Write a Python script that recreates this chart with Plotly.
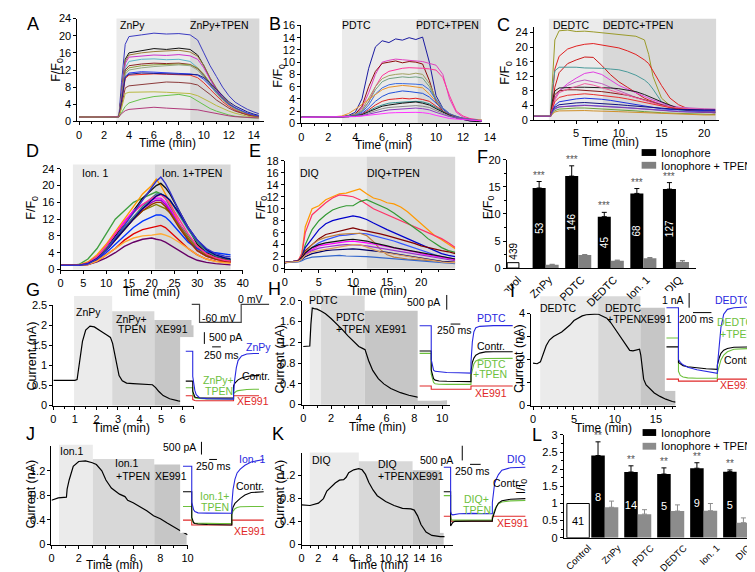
import plotly.graph_objects as go

W, H = 755, 572
FONT = "Liberation Sans, Arial, sans-serif"

# ---------------- A : ZnPy (F/F0 vs min) ----------------
a_time = [0, 1, 2, 3, 3.2, 3.4, 3.7, 4, 5, 6, 7, 8, 8.9, 9.5, 10, 10.5, 11, 11.5, 12, 12.5, 13, 13.5, 14, 14.4]
a_traces = [
    [1.1, 1.1, 1.0, 1.1, 1.3, 9, 18, 19.8, 20.2, 20.6, 20.4, 20.5, 20.2, 19, 16, 13, 10.5, 8, 6, 4.5, 3.6, 2.8, 2.2, 1.8],
    [1, 1, 1, 1, 1.2, 7, 14.5, 16, 16.5, 17, 16.8, 17.1, 16.8, 15.5, 13, 10, 7.5, 5.5, 4, 3, 2.2, 1.6, 1.2, 1.0],
    [1, 1, 1, 1, 1.2, 6.5, 14, 15.5, 16, 16.3, 16.5, 16.6, 16.2, 15.2, 13, 10.2, 7.8, 5.8, 4.3, 3.2, 2.4, 1.8, 1.3, 1.0],
    [1, 1, 1, 1, 1.2, 6, 13.5, 15, 15.3, 15.5, 15.4, 15.6, 15.3, 14.5, 12.5, 9.8, 7.5, 5.5, 4, 3, 2.2, 1.6, 1.2, 1.0],
    [1, 1, 1, 1, 1.1, 5.5, 12.5, 14, 14.5, 14.6, 14.4, 14.5, 14, 12.5, 10.5, 8.5, 6.5, 5, 3.8, 2.8, 2, 1.5, 1.1, 0.9],
    [1, 1, 1, 1, 1.1, 5, 12, 13, 13.4, 13.6, 13.5, 13.6, 13.3, 12.3, 10.8, 8.8, 7, 5.2, 4, 3, 2.2, 1.6, 1.2, 1.0],
    [1, 1, 1, 1, 1.1, 5, 11.5, 12.5, 13, 13.2, 13.3, 13.4, 13.2, 12.5, 11, 9, 7, 5.3, 4, 3, 2.2, 1.6, 1.2, 0.9],
    [1, 1, 1, 1, 1.1, 4.8, 11, 12, 12.5, 12.8, 13, 13.2, 13, 12, 10.3, 8.4, 6.6, 5, 3.8, 2.9, 2.1, 1.5, 1.1, 0.9],
    [1, 1, 1, 1, 1.1, 4.5, 10.5, 11.3, 11.6, 11.5, 11.3, 11.2, 11.1, 10.8, 9.8, 8.3, 6.8, 5.3, 4, 3.2, 2.5, 1.9, 1.5, 1.2],
    [1, 1, 1, 1, 1.1, 4.3, 10, 10.8, 11, 11.1, 11, 10.9, 10.8, 10.2, 9, 7.5, 6, 4.6, 3.5, 2.6, 2, 1.5, 1.1, 0.9],
    [1, 1, 1, 1, 1.1, 4.5, 10.3, 11, 11.3, 11.2, 11.1, 11, 11, 10.9, 10.2, 9, 7.5, 6, 4.6, 3.6, 2.8, 2.2, 1.7, 1.4],
    [1, 1, 1, 1, 1.1, 3.5, 7.8, 8.3, 8.6, 9, 9.2, 9.1, 8.9, 8.5, 7.5, 6.3, 5, 4, 3.1, 2.4, 1.9, 1.5, 1.2, 1.0],
    [1, 1, 1, 1, 1.1, 3, 6.5, 6.8, 6.9, 6.9, 6.8, 6.7, 6.5, 6, 5.3, 4.5, 3.7, 3, 2.4, 1.9, 1.5, 1.2, 1.0, 0.9],
    [1, 1, 1, 1, 1.1, 2, 3.5, 4.3, 5.2, 5.8, 6.1, 6.3, 5.8, 4.8, 3.8, 3, 2.4, 1.9, 1.5, 1.2, 1.0, 0.9, 0.8, 0.8],
    [1, 1, 1, 1, 1.1, 1.8, 2.5, 2.8, 3.0, 3.3, 3.1, 3.0, 2.9, 2.7, 2.4, 2.1, 1.8, 1.5, 1.3, 1.1, 1.0, 0.9, 0.8, 0.8],
]
a_colors = ["#3b3bc0", "#111111", "#9c7c38", "#cc33cc", "#5ab4c8", "#8b2323", "#8a9a3a", "#93a882",
            "#2a3cf0", "#e8302a", "#1c1c8c", "#8b3a3a", "#b8b840", "#66c24a", "#b03a7a"]

# ---------------- B : PDTC ----------------
b_time = [0, 1, 2, 3, 3.5, 4, 4.5, 5, 5.5, 6, 6.5, 7, 7.5, 8, 8.5, 9, 9.5, 10, 10.5, 11, 11.5, 12, 12.5, 13, 13.4]
b_traces = [
    [1, 1, 1, 1.1, 1.3, 1.8, 4, 9, 12.5, 13.5, 13.2, 13.8, 13.6, 14, 13.7, 14.1, 10, 4.5, 2.5, 1.4, 0.9, 0.6, 0.4, 0.3, 0.3],
    [1, 1, 1, 1.05, 1.2, 1.5, 2.5, 5, 8, 10, 10.3, 10.5, 10.4, 10.3, 10.2, 10.1, 9.8, 9.5, 8, 4, 1.8, 1, 0.7, 0.5, 0.4],
    [1, 1, 1, 1.05, 1.2, 1.5, 2.8, 6, 8.5, 9.8, 10, 10.2, 9.9, 10.1, 10, 9.7, 7, 3.5, 2, 1.3, 0.9, 0.7, 0.5, 0.4, 0.4],
    [1, 1, 1, 1.05, 1.15, 1.4, 2, 3.5, 6, 7.8, 8.5, 8.8, 9, 9.1, 9.1, 9, 8.9, 8.7, 7.5, 4.5, 2, 1.2, 0.8, 0.6, 0.5],
    [1, 1, 1, 1.05, 1.2, 1.5, 2.2, 4, 6, 7.3, 7.8, 8, 8.1, 8, 8.2, 8, 6.5, 4, 2.5, 1.6, 1.1, 0.8, 0.6, 0.5, 0.5],
    [1, 1, 1, 1.05, 1.2, 1.4, 2, 3.5, 5.5, 6.8, 7.3, 7.5, 7.6, 7.5, 7.6, 7.4, 6, 3.8, 2.4, 1.5, 1.1, 0.8, 0.6, 0.5, 0.5],
    [1, 1, 1, 1.05, 1.15, 1.3, 1.8, 3, 4.8, 5.8, 6.3, 6.5, 6.5, 6.5, 6.4, 6.3, 5.5, 3.8, 2.5, 1.6, 1.1, 0.8, 0.6, 0.5, 0.4],
    [1, 1, 1, 1.2, 1.6, 2.3, 3.1, 4.0, 4.8, 5.5, 5.9, 6.1, 6.2, 6.1, 6, 5.8, 4.8, 3.5, 2.3, 1.5, 1.1, 0.8, 0.6, 0.5, 0.5],
    [1, 1, 1, 1.05, 1.1, 1.25, 1.6, 2.5, 3.6, 4.4, 4.9, 5.1, 5.3, 5.2, 5.1, 4.9, 4.3, 3.3, 2.3, 1.5, 1.1, 0.8, 0.6, 0.5, 0.4],
    [1, 1, 1, 1.05, 1.1, 1.2, 1.5, 2.2, 3.0, 3.6, 3.9, 4.0, 4.1, 4.0, 4.1, 3.9, 3.6, 2.8, 2.0, 1.4, 1.0, 0.8, 0.6, 0.5, 0.4],
    [1, 1, 1, 1.05, 1.1, 1.2, 1.4, 2, 2.6, 3.0, 3.3, 3.4, 3.5, 3.5, 3.6, 3.5, 3.2, 2.6, 1.9, 1.3, 1.0, 0.8, 0.6, 0.5, 0.4],
    [1, 1, 1, 1.05, 1.1, 1.2, 1.4, 1.9, 2.4, 2.8, 3.0, 3.2, 3.3, 3.4, 3.5, 3.3, 3.0, 2.4, 1.8, 1.3, 0.9, 0.6, 0.4, 0.3, 0.3],
    [1, 1, 1, 1.05, 1.1, 1.2, 1.3, 1.7, 2.1, 2.4, 2.6, 2.7, 2.8, 2.9, 2.9, 2.8, 2.6, 2.1, 1.6, 1.2, 0.9, 0.7, 0.6, 0.5, 0.4],
    [1, 1, 1, 1.05, 1.1, 1.15, 1.25, 1.5, 1.8, 2.0, 2.2, 2.3, 2.4, 2.4, 2.5, 2.4, 2.2, 1.8, 1.4, 1.1, 0.9, 0.7, 0.6, 0.5, 0.4],
    [1, 1, 1, 1.0, 1.05, 1.1, 1.2, 1.35, 1.5, 1.6, 1.7, 1.75, 1.8, 1.8, 1.8, 1.75, 1.6, 1.3, 1.0, 0.8, 0.7, 0.6, 0.5, 0.4, 0.4],
]
b_colors = ["#1a1aa0", "#e040c0", "#8b0a0a", "#ff3399", "#a0a060", "#6f9f7f", "#3a6ae0", "#e8922a",
            "#2050d8", "#e02020", "#2f8f8f", "#111111", "#8a8a8a", "#8a3ac0", "#ff33ff"]

# ---------------- C : DEDTC ----------------
c_time = [0, 1, 2, 2.2, 2.5, 3, 4, 5, 6, 7, 8, 9, 10, 11, 12, 13, 13.5, 14, 15, 16, 17, 18, 19, 20, 21.3]
c_traces = [
    [1, 1, 1, 10, 22, 24.5, 24.7, 24.3, 24.4, 24.2, 24, 23.8, 23.6, 23.4, 23, 22, 18, 12, 6, 4, 3, 2.8, 2.6, 2.5, 2.5],
    [1, 1, 1, 6, 14, 17.5, 19.5, 20.3, 20.8, 21, 20.6, 20.3, 19.8, 19, 18, 16.5, 15.5, 13.5, 9.5, 6, 4.2, 3.2, 2.8, 2.5, 2.3],
    [1, 1, 1, 4, 9, 13, 15.5, 16.5, 17.3, 17.2, 15, 12.5, 10.5, 9, 7.5, 6, 5.5, 5, 4.2, 3.5, 3, 2.6, 2.3, 2.1, 2],
    [1, 1, 1, 8, 13.5, 14.5, 14.6, 14.5, 14.3, 14.3, 14.2, 14, 13.8, 13.2, 12.3, 11, 10, 8.5, 5, 3.5, 2.8, 2.5, 2.3, 2.2, 2.2],
    [1, 1, 1, 3, 6, 8, 10, 11.5, 12.8, 13.2, 12.5, 11, 9.5, 8.5, 7.5, 6.5, 6, 5.5, 4.8, 4, 3.5, 3.2, 3, 2.9, 2.8],
    [1, 1, 1, 3, 6, 8, 9.5, 10.5, 11, 10.5, 10, 9, 8, 7, 6.2, 5.5, 5.2, 4.8, 4.2, 3.8, 3.5, 3.3, 3.2, 3.1, 3],
    [1, 1, 1, 5, 8, 8.8, 9, 9, 9, 9, 8.9, 8.8, 8.6, 8.3, 7.8, 7, 6.6, 6, 5, 4, 3.2, 2.7, 2.4, 2.2, 2],
    [1, 1, 1, 4, 7, 8, 8.3, 8.3, 8.2, 8, 7.8, 7.5, 7.2, 6.8, 6.2, 5.5, 5.2, 4.8, 4, 3.5, 3, 2.7, 2.5, 2.3, 2.2],
    [1, 1, 1, 3, 5.5, 7.5, 8.5, 9.2, 10, 9.6, 9, 8.2, 7.5, 6.8, 6, 5.3, 5, 4.6, 4, 3.6, 3.3, 3.1, 3, 2.9, 2.9],
    [1, 1, 1, 3, 5, 6.2, 6.8, 7, 7.2, 7, 6.8, 6.5, 6.2, 5.8, 5.3, 4.8, 4.5, 4.2, 3.8, 3.4, 3.1, 2.9, 2.7, 2.6, 2.5],
    [1, 1, 1, 2.5, 4, 5, 5.5, 5.8, 6, 5.9, 5.7, 5.4, 5, 4.6, 4.2, 3.8, 3.6, 3.4, 3.1, 2.9, 2.8, 2.7, 2.7, 2.6, 2.6],
    [1, 1, 1, 2.2, 3.5, 4.2, 4.5, 4.7, 4.8, 4.7, 4.6, 4.4, 4.2, 4, 3.8, 3.5, 3.4, 3.3, 3.1, 3, 2.9, 2.9, 2.8, 2.8, 2.8],
    [1, 1, 1, 2, 3, 3.6, 3.9, 4, 4.1, 4, 3.9, 3.8, 3.6, 3.4, 3.2, 3, 2.9, 2.8, 2.6, 2.5, 2.4, 2.3, 2.3, 2.2, 2.2],
    [1, 1, 1, 1.8, 2.6, 3, 3.2, 3.3, 3.3, 3.2, 3.1, 3, 2.9, 2.7, 2.5, 2.3, 2.2, 2.1, 2, 1.9, 1.8, 1.7, 1.6, 1.5, 1.5],
    [1, 1, 1, 1.6, 2.2, 2.5, 2.6, 2.6, 2.6, 2.5, 2.5, 2.4, 2.3, 2.2, 2.1, 2, 1.9, 1.9, 1.8, 1.7, 1.6, 1.5, 1.5, 1.4, 1.4],
    [1, 1, 1, 2.3, 3.2, 3.6, 3.8, 3.9, 4, 3.9, 3.8, 3.7, 3.6, 3.4, 3.2, 3, 2.9, 2.8, 2.6, 2.4, 2.3, 2.2, 2.1, 2, 2],
]
c_colors = ["#9a9a2a", "#e02020", "#cc1a1a", "#4a9a9a", "#e040e0", "#c060c0", "#202020", "#8b1a1a",
            "#f060a0", "#e83030", "#2030e0", "#101080", "#4a6aff", "#6aa03a", "#d0902a", "#8a3aa8"]

# ---------------- D : Ion. 1 ----------------
d_time = [0, 2, 4, 6, 8, 10, 12, 14, 16, 18, 20, 21, 22, 23, 24, 26, 28, 30, 32, 34, 36, 37.3]
d_traces = [
    [1, 1, 1.2, 2.5, 5, 8.5, 12, 14, 16, 17, 18, 18.5, 18, 17, 15, 11, 8, 5.5, 4, 3, 2.5, 2.3],
    [1, 1, 1.1, 1.8, 3.5, 6, 9, 12, 15, 18, 20, 21.5, 20, 18, 16, 11, 7, 4.5, 3.2, 2.5, 2, 1.8],
    [1, 1, 1, 1.5, 3, 5, 8, 11, 14, 17, 19, 20, 20.5, 19.5, 18, 14, 10, 6, 4, 3, 2.5, 2.2],
    [1, 1, 1, 1.5, 3, 5.5, 8.5, 11.5, 14, 15.5, 16.5, 17, 17, 16, 14.5, 11, 7.5, 5, 3.5, 2.6, 2.1, 1.9],
    [1, 1, 1, 1.3, 2.5, 4.5, 7, 10, 12.5, 14.5, 16, 16.5, 16.5, 15.5, 14, 10.5, 7, 4.5, 3.2, 2.5, 2, 1.8],
    [1, 1, 1, 1.4, 2.8, 5, 7.5, 10, 12.5, 15, 17, 18, 18, 17.5, 16.5, 13, 9.5, 6.5, 4.5, 3.2, 2.6, 2.3],
    [1, 1, 1, 1.4, 2.6, 4.8, 7, 9.5, 12, 14, 15, 15.5, 15, 14.5, 13.5, 10.5, 7.5, 5, 3.5, 2.7, 2.2, 2],
    [1, 1, 1, 1.3, 2.3, 4, 6, 8, 10, 11.5, 12.5, 13, 13, 12.5, 11.5, 9, 6.5, 5, 4.2, 4, 3.7, 3.5],
    [1, 1, 1, 1.2, 2, 3.5, 5, 7, 8.5, 9.5, 10, 10.2, 10.5, 10, 9, 7, 5, 3.5, 2.5, 2, 1.8, 1.7],
    [1, 1, 1, 1.2, 1.8, 2.8, 4, 5.5, 6.5, 7.2, 7.5, 7.2, 7, 6.5, 5.8, 4.5, 3.2, 2.2, 1.7, 1.4, 1.2, 1.1],
    [1, 1, 1, 1.3, 2.5, 4.5, 7, 9.5, 12, 14, 15.5, 16, 16, 15, 13.5, 10, 7, 4.5, 3.2, 2.5, 2, 1.8],
    [1, 1, 1, 1.2, 2, 3.5, 5, 6.5, 7.5, 8, 8.2, 8.3, 8.5, 8.2, 7.8, 6.5, 5, 3.5, 2.5, 1.9, 1.6, 1.5],
    [1, 1, 1, 1.5, 3, 5.5, 8.5, 11, 13.5, 15.5, 17, 17.5, 17.8, 17, 15.5, 12, 8.5, 5.5, 3.8, 2.8, 2.2, 2],
    [1, 1, 1, 1.4, 2.6, 4.6, 7, 9.5, 12, 14.5, 16.5, 17.5, 18, 17.5, 16.5, 13.5, 10, 7, 4.8, 3.5, 2.8, 2.5],
    [1, 1, 1, 1.3, 2.5, 4.5, 7.5, 10.5, 13.5, 16.5, 19.5, 21, 22, 20.5, 18.5, 14, 10, 7, 5, 3.8, 3.2, 3],
]
d_colors = ["#40a040", "#ff9900", "#111111", "#ff00ff", "#9900cc", "#338080", "#808000", "#0033ff",
            "#e00000", "#660066", "#993300", "#ffaa33", "#ff3399", "#000080", "#3333cc"]

# ---------------- E : DIQ ----------------
e_time = [0, 1, 2, 2.5, 3, 4, 5, 6, 7, 8, 9, 10, 11, 12, 13, 14, 15, 16, 17, 18, 19, 20, 21, 22, 23, 24, 25]
e_traces = [
    [1, 1.1, 1.4, 2.5, 7, 10, 10.5, 11.5, 12, 12.5, 12.6, 13, 13.3, 12.5, 11.8, 11.5, 11, 10.8, 10.3, 9.5, 8.5, 7.5, 6.5, 5.5, 4.8, 4, 3.3],
    [1, 1.1, 1.4, 2.5, 6, 9, 10, 11, 11.8, 12.3, 12.2, 12, 11.5, 10.8, 10, 9.5, 9, 8.5, 8, 7.5, 7, 6.5, 6, 5.5, 5, 4.3, 3.5],
    [1, 1.1, 1.3, 2, 4, 6.5, 8, 9, 9.8, 10.2, 10.5, 10.5, 11.2, 11.5, 11, 10.5, 10, 9.3, 8.5, 7.7, 6.8, 6, 5, 4.2, 3.5, 3, 2.7],
    [1, 1.1, 1.3, 2, 3.5, 5, 6.5, 7.5, 8, 8.3, 8.5, 8.8, 8.6, 8.2, 7.6, 7, 6.5, 6, 5.5, 5, 4.5, 4, 3.5, 3, 2.5, 2.2, 2],
    [1, 1.1, 1.3, 2, 3, 4, 5, 5.7, 6, 6.3, 6.5, 6.8, 6.5, 6.3, 6, 5.8, 5.5, 5.2, 4.8, 4.5, 4.2, 3.8, 3.5, 3.2, 3, 2.8, 2.5],
    [1, 1.1, 1.3, 1.8, 2.7, 3.5, 4.3, 4.8, 5.2, 5.5, 5.6, 5.8, 5.9, 5.8, 5.5, 5.2, 5, 4.6, 4.2, 3.8, 3.4, 3, 2.6, 2.3, 2, 1.8, 1.6],
    [1, 1.1, 1.3, 1.8, 2.8, 4, 4.8, 5.2, 5.5, 5.7, 5.8, 5.9, 5.9, 5.5, 4.5, 3.2, 2.3, 1.9, 1.7, 1.6, 1.5, 1.4, 1.3, 1.2, 1.2, 1.1, 1.1],
    [1, 1.1, 1.3, 1.8, 2.5, 3.2, 3.8, 4, 4.2, 4.3, 4.5, 4.6, 4.5, 4.3, 4.1, 3.9, 3.6, 3.4, 3.2, 3, 2.8, 2.5, 2.3, 2.1, 1.9, 1.7, 1.5],
    [1, 1.1, 1.3, 1.7, 2.3, 3, 3.4, 3.6, 3.8, 3.9, 4, 4, 3.9, 3.8, 3.6, 3.4, 3.2, 3, 2.8, 2.6, 2.4, 2.2, 2, 1.8, 1.6, 1.4, 1.3],
    [1, 1.1, 1.3, 1.8, 2.6, 3.5, 4, 4.3, 4.5, 4.7, 4.8, 4.9, 4.8, 4.6, 4.3, 4.1, 3.8, 3.5, 3.3, 3, 2.8, 2.6, 2.4, 2.2, 2, 1.8, 1.6],
    [1, 1.1, 1.2, 1.5, 2, 2.5, 2.8, 3, 3.1, 3.2, 3.3, 3.3, 3.2, 3.1, 3, 2.9, 2.7, 2.5, 2.3, 2.1, 1.9, 1.7, 1.5, 1.3, 1.2, 1.1, 1],
    [1, 1, 1.1, 1.3, 1.6, 1.9, 2, 2.1, 2.2, 2.2, 2.1, 2.1, 2, 2, 1.9, 1.8, 1.7, 1.6, 1.5, 1.4, 1.3, 1.2, 1.1, 1, 0.9, 0.9, 0.8],
    [1, 1.1, 1.2, 1.6, 2.2, 2.8, 3, 3.2, 3.4, 3.6, 3.8, 4, 4, 3.6, 3.2, 2.8, 2.6, 2.4, 2.2, 2, 1.8, 1.6, 1.4, 1.2, 1.1, 1, 1],
]
e_colors = ["#ff9900", "#ff3366", "#339933", "#0000cc", "#800000", "#3355ff", "#c08040", "#ff00ff",
            "#9933cc", "#111111", "#000066", "#3366cc", "#e0a060"]

# ---------------- F : F/F0 summary ----------------
f_cats = ["Control", "ZnPy", "PDTC", "DEDTC", "Ion. 1", "DIQ"]
f_ctrl, f_ctrl_n = 1.0, "439"
f_iono = [14.8, 17.0, 9.5, 13.8, 14.6]
f_iono_err = [1.2, 1.9, 0.8, 0.9, 1.2]
f_iono_n = ["53", "146", "45", "68", "127"]
f_tpen = [0.6, 2.4, 1.35, 1.8, 1.1]
f_tpen_err = [0.1, 0.1, 0.12, 0.15, 0.3]

# ---------------- G-K : current vs time (min, nA) ----------------
g_time = [0, 0.5, 1.0, 1.1, 1.2, 1.35, 1.5, 1.7, 1.9, 2.1, 2.3, 2.5, 2.65, 2.75, 2.85, 2.95, 3.05, 3.2, 3.4,
          3.7, 4.0, 4.3, 4.6, 4.75, 4.9, 5.1, 5.4, 5.8, 6.2, 6.45]
g_curr = [0.63, 0.63, 0.63, 0.65, 1.0, 1.6, 1.88, 1.98, 1.96, 1.9, 1.82, 1.75, 1.7, 1.55, 1.25, 0.95, 0.75, 0.62,
          0.56, 0.55, 0.54, 0.53, 0.52, 0.45, 0.35, 0.25, 0.17, 0.12, 0.09, 0.07]
h_time = [0, 0.3, 0.47, 0.55, 0.65, 0.8, 1.0, 1.3, 1.6, 2.0, 2.4, 2.8, 3.2, 3.6, 4.0, 4.3, 4.45, 4.7, 5.0, 5.4,
          5.8, 6.3, 7.0, 7.6, 8.3, 9.0, 9.7, 10.35]
h_curr = [1.12, 1.12, 1.13, 1.55, 1.86, 1.85, 1.84, 1.8, 1.75, 1.66, 1.56, 1.45, 1.33, 1.22, 1.12, 1.08, 1.06,
          0.85, 0.66, 0.5, 0.4, 0.31, 0.23, 0.18, 0.14, 0.12, 0.1, 0.09]
i_time = [0, 0.5, 0.9, 1.2, 1.6, 2.0, 2.5, 3.0, 3.5, 4.0, 4.5, 5.0, 5.5, 6.0, 6.5, 7.0, 7.5, 8.0, 8.5, 9.0, 9.5,
          10.0, 10.5, 11.0, 11.5, 11.8, 12.2, 12.6, 13.0, 13.15, 13.3, 13.5, 13.8, 14.2, 14.8, 15.5, 16.2, 17.0, 17.4]
i_curr = [1.85, 1.82, 1.9, 2.2, 2.6, 2.85, 3.0, 3.1, 3.2, 3.35, 3.5, 3.7, 3.8, 3.9, 3.95, 3.98, 3.98, 3.97, 3.9,
          3.8, 3.6, 3.35, 3.1, 2.85, 2.55, 2.4, 2.38, 2.4, 2.45, 2.2, 1.6, 1.15, 0.9, 0.75, 0.55, 0.4, 0.28, 0.18, 0.15]
j_time = [0, 0.5, 1.1, 1.15, 1.3, 1.6, 2.0, 2.5, 3.0, 3.3, 3.7, 4.0, 4.4, 5.0, 5.4, 5.6, 6.0, 6.5, 7.0, 7.5, 8.0,
          8.5, 9.0, 9.5, 10.0]
j_curr = [0.72, 0.76, 0.77, 0.9, 1.05, 1.27, 1.35, 1.36, 1.33, 1.3, 1.2, 1.05, 0.92, 0.82, 0.78, 0.72, 0.68, 0.62,
          0.55, 0.47, 0.42, 0.35, 0.28, 0.22, 0.16]
k_time = [0, 1, 2, 2.6, 3.0, 3.5, 4.0, 4.5, 5.0, 5.3, 5.6, 6.2, 6.8, 7.2, 7.6, 8.0, 8.5, 9.0, 10, 11, 12, 13, 13.4,
          13.8, 14.2, 14.8, 15.5, 16.5, 17]
k_curr = [0.69, 0.68, 0.72, 0.8, 0.93, 1.0, 1.07, 1.12, 1.13, 1.17, 1.25, 1.3, 1.32, 1.3, 1.22, 1.08, 0.95, 0.85,
          0.75, 0.68, 0.63, 0.62, 0.6, 0.5, 0.35, 0.22, 0.16, 0.14, 0.14]

# ---------------- insets: current traces (ms, pA) ----------------
gi_t = [-200, 0, 0, 30, 60, 100, 150, 200, 400, 800, 1170, 1170, 1200, 1250, 1300, 1400, 1550, 1750, 1900]
gi_blue = [2000, 2000, 930, 560, 330, 150, 60, 10, -20, -35, -40, 150, 750, 1300, 1600, 1800, 1880, 1900, 1900]
gi_black = [725, 725, 300, 120, 50, 30, 20, 15, 10, 10, 10, 520, 620, 700, 780, 860, 920, 960, 960]
gi_green = [446, 446, 150, 60, 20, 0, -10, -20, -30, -38, -38, 200, 250, 290, 320, 350, 370, 380, 380]
gi_red = [100, 100, -60, -90, -100, -108, -108, -108, -108, -108, -108, 100, 100, 100, 100, 100, 100, 100, 100]
prot_t = [-230, 0, 0, 1195, 1195, 2000]
prot_mv = [0, 0, -60, -60, 0, 0]

hi_t = [-300, 0, 0, 30, 60, 100, 200, 400, 700, 1025, 1025, 1060, 1100, 1150, 1250, 1400, 1600, 2100]
hi_blue = [2150, 2150, 1000, 750, 640, 600, 580, 560, 550, 540, 900, 1600, 1950, 2080, 2130, 2150, 2155, 2155]
hi_black = [1290, 1290, 650, 450, 350, 300, 270, 260, 255, 250, 600, 900, 1050, 1150, 1220, 1260, 1265, 1265]
hi_green = [1210, 1210, 500, 300, 220, 180, 160, 157, 155, 155, 450, 700, 850, 950, 1010, 1035, 1042, 1042]
hi_red = [100, 100, -10, -10, -10, -10, -10, -10, -10, -10, 100, 100, 100, 100, 100, 100, 100, 100]

ii_t = [-130, 0, 0, 20, 50, 100, 200, 300, 421, 421, 440, 460, 490, 530, 600, 700, 780]
ii_blue = [4500, 4500, 1320, 1150, 1000, 850, 700, 580, 480, 900, 2000, 3300, 4100, 4400, 4500, 4550, 4550]
ii_black = [2100, 2100, 1140, 1050, 950, 880, 800, 760, 720, 1000, 1400, 1700, 1900, 2000, 2080, 2100, 2100]
ii_green = [2640, 2640, 600, 350, 250, 200, 180, 180, 180, 500, 900, 1300, 1600, 1800, 1950, 2000, 2000]
ii_red = [120, 120, 0, 0, 0, 0, 0, 0, 0, 120, 120, 120, 120, 120, 120, 120, 120]

ji_t = [-280, 0, 0, 30, 60, 100, 200, 500, 900, 1280, 1280, 1320, 1380, 1450, 1550, 1700, 1900, 2300]
ji_blue = [2310, 2310, 900, 700, 600, 530, 480, 470, 465, 462, 800, 1400, 1800, 2050, 2200, 2350, 2480, 2580]
ji_black = [1309, 1309, 300, 150, 90, 60, 40, 20, 10, 0, 500, 700, 850, 950, 1050, 1180, 1280, 1309]
ji_green = [731, 731, 200, 120, 90, 77, 70, 65, 60, 60, 400, 550, 640, 690, 720, 731, 731, 731]
ji_red = [192, 192, 0, 0, 0, 0, 0, 0, 0, 0, 192, 192, 192, 192, 192, 192, 192, 192]

ki_t = [-160, 0, 0, 20, 50, 100, 200, 500, 977, 977, 1000, 1030, 1070, 1120, 1200, 1400, 1750]
ki_blue = [1900, 1900, 400, 300, 280, 300, 320, 330, 320, 700, 1100, 1350, 1500, 1650, 1800, 1880, 1900]
ki_black = [1067, 1067, -100, -50, 20, 60, 67, 67, 67, 133, 250, 400, 550, 680, 760, 810, 833]
ki_green = [933, 933, 200, 120, 100, 100, 100, 100, 100, 200, 320, 450, 560, 660, 720, 755, 767]
ki_red = [233, 233, 67, 67, 67, 67, 67, 67, 67, 233, 233, 233, 233, 233, 233, 233, 233]

# ---------------- L : I/I0 summary ----------------
l_cats = ["Control", "ZnPy", "PDTC", "DEDTC", "Ion. 1", "DIQ"]
l_ctrl, l_ctrl_n = 1.0, "41"
l_iono = [2.4, 1.92, 1.86, 2.03, 1.93]
l_iono_err = [0.4, 0.18, 0.18, 0.16, 0.05]
l_iono_n = ["8", "14", "5", "9", "5"]
l_tpen = [0.89, 0.69, 0.78, 0.79, 0.44]
l_tpen_err = [0.18, 0.13, 0.18, 0.21, 0.14]

BLUE, GREEN, RED = "#2828e0", "#6cc03c", "#e02828"
LIGHT, MED, DARK = "#ebebeb", "#d8d8d8", "#c6c6c6"

fig = go.Figure()
lay = {}
shapes = []
annos = []


def ref(n):
    return ("x", "y") if n == 1 else (f"x{n}", f"y{n}")


def add_axes(n, xpx, xz, xppu, ypx, yz, yppu, xkw=None, ykw=None, show=True):
    x0, x1 = xpx
    ytop, ybot = ypx
    xr, yr = ref(n)
    base = dict(showline=True, linecolor="black", linewidth=1, ticks="outside", ticklen=3,
                tickwidth=1, tickcolor="black", showgrid=False, zeroline=False,
                tickfont=dict(size=11, color="black", family=FONT), visible=show)
    xa = dict(base)
    xa.update(domain=[x0 / W, x1 / W], range=[(x0 - xz) / xppu, (x1 - xz) / xppu], anchor=yr)
    xa.update(xkw or {})
    ya = dict(base)
    ya.update(domain=[1 - ybot / H, 1 - ytop / H], range=[(yz - ybot) / yppu, (yz - ytop) / yppu], anchor=xr)
    ya.update(ykw or {})
    lay["xaxis" if n == 1 else f"xaxis{n}"] = xa
    lay["yaxis" if n == 1 else f"yaxis{n}"] = ya


def shade(n, x0, x1, top, color):
    xr, yr = ref(n)
    lo, hi = lay["yaxis" if n == 1 else f"yaxis{n}"]["range"]
    shapes.append(dict(type="rect", xref=xr, yref=yr + " domain", x0=x0, x1=x1, y0=0,
                       y1=(top - lo) / (hi - lo), fillcolor=color, line=dict(width=0), layer="below"))


def txt(px, py, s, size=11, color="black", anchor="center", angle=0):
    annos.append(dict(x=px / W, y=1 - py / H, xref="paper", yref="paper", text=s, showarrow=False,
                      font=dict(size=size, color=color, family=FONT), xanchor=anchor, yanchor="middle",
                      textangle=angle))


def seg(x0, y0, x1, y1, color="black", w=1):
    shapes.append(dict(type="line", xref="paper", yref="paper", x0=x0 / W, y0=1 - y0 / H, x1=x1 / W,
                       y1=1 - y1 / H, line=dict(color=color, width=w)))


def box(x0, y0, x1, y1, color):
    shapes.append(dict(type="rect", xref="paper", yref="paper", x0=x0 / W, y0=1 - y1 / H, x1=x1 / W,
                       y1=1 - y0 / H, fillcolor=color, line=dict(width=0)))


def line(n, x, y, color, w=1.0):
    xr, yr = ref(n)
    fig.add_trace(go.Scatter(x=x, y=y, mode="lines", line=dict(color=color, width=w), xaxis=xr, yaxis=yr,
                             showlegend=False, hoverinfo="skip"))


def minor(d):
    return dict(minor=dict(dtick=d, ticklen=2, tickcolor="black", ticks="outside"))


# ---------- axes ----------
add_axes(1, (54, 246), 55.7, 12.88, (4.7, 109.7), 109.7, 4.375, dict(dtick=2, **minor(1)), dict(dtick=4))
add_axes(2, (285, 479.7), 285, 13.9, (11.7, 111.7), 111.7, 6.25, dict(dtick=2, **minor(1)), dict(dtick=2))
add_axes(3, (525, 716), 524.5, 8.8, (13.4, 108.3), 108.3, 3.72, dict(dtick=5, **minor(2.5)),
         dict(tickvals=[0, 4, 8, 12, 16, 20, 24]))
add_axes(4, (36.7, 224.7), 36.7, 4.7, (158, 261), 261, 4.29, dict(dtick=5), dict(dtick=4))
add_axes(5, (268, 443.7), 268, 7.03, (150, 260), 260, 6.11, dict(dtick=5, **minor(2.5)), dict(dtick=2))
add_axes(6, (497, 692), 503.4, 33.6, (149, 259.5), 259.5, 5.525,
         dict(ticks="", tickvals=[0.15, 1.1, 2.1, 3.1, 4.1, 5.1], ticktext=f_cats, tickangle=-45),
         dict(dtick=5, **minor(2.5)))
add_axes(7, (29.3, 174), 29.3, 22.2, (297.5, 400), 400, 41, dict(dtick=1, **minor(0.5)), dict(dtick=0.5))
add_axes(8, (285.3, 438.7), 287, 14.33, (293, 399), 399, 53, dict(dtick=2, **minor(1)),
         dict(tickvals=[0, 0.4, 0.8, 1.2, 1.6, 2.0], ticktext=["0", "0.4", "0.8", "1.2", "1.6", "2.0"]))
add_axes(9, (522.3, 671), 524, 8.45, (306, 400), 400, 23.5, dict(dtick=5, **minor(1)), dict(dtick=1))
add_axes(10, (27.3, 167.7), 27.3, 14.04, (441.4, 542), 542, 62.9, dict(dtick=2, **minor(1)), dict(dtick=0.4))
add_axes(11, (285.3, 441.3), 285.3, 8.67, (448, 542), 542, 58.8, dict(dtick=2, **minor(1)), dict(dtick=0.4))
add_axes(12, (555.7, 752), 564, 34, (430, 535), 535, 35,
         dict(ticks="", tickvals=[0.5, 1.4, 2.4, 3.4, 4.4, 5.35], ticktext=l_cats, tickangle=-45,
              tickfont=dict(size=9.5, color="black", family=FONT)),
         dict(dtick=0.5, **minor(0.25)))
# insets (hidden axes)
add_axes(13, (160, 252), 173, 1 / 27.8, (330, 400), 392.4, 1 / 41.7, show=False)
add_axes(14, (405, 505), 419, 1 / 25, (283, 395), 383, 1 / 33.3, show=False)
add_axes(15, (660, 755), 674, 1 / 10.5, (283, 385), 375, 1 / 60, show=False)
add_axes(16, (160, 252), 172, 1 / 31, (440, 530), 522, 1 / 38.5, show=False)
add_axes(17, (428, 520), 439, 1 / 22.7, (440, 530), 520, 1 / 33.3, show=False)
add_axes(18, (171.7, 252), 180, 1 / 27.8, (292, 318), 296.7, 0.305, show=False)

# ---------- shading ----------
shade(1, 3.0, 8.9, 24, LIGHT); shade(1, 8.9, 14.44, 24, MED)
shade(2, 3.02, 8.62, 17.07, LIGHT); shade(2, 8.62, 13.33, 17.07, MED)
shade(3, 1.8, 8.1, 27.8, LIGHT); shade(3, 8.1, 21.4, 27.8, MED)
shade(4, 2.7, 20.7, 25, LIGHT); shade(4, 20.7, 37.3, 25, MED)
shade(5, 2.1, 12, 18.7, LIGHT); shade(5, 12, 25.1, 18.7, MED)
shade(7, 0.96, 2.73, 2.73, LIGHT); shade(7, 2.73, 4.69, 2.35, MED); shade(7, 4.69, 6.52, 2.13, DARK)
shade(8, 0.47, 1.28, 2.2, LIGHT); shade(8, 1.28, 4.42, 2.1, MED); shade(8, 4.42, 10.35, 1.81, DARK)
shade(9, 0.87, 7.95, 4.75, LIGHT); shade(9, 7.95, 13.1, 4.75, MED); shade(9, 13.1, 17.4, 4.25, DARK)
shade(10, 0.55, 3.04, 1.62, LIGHT); shade(10, 3.04, 7.55, 1.39, MED); shade(10, 7.55, 9.93, 1.3, DARK)
shade(11, 0.97, 6.8, 1.6, LIGHT); shade(11, 6.8, 13.2, 1.45, MED); shade(11, 13.2, 16.9, 1.29, DARK)

# ---------- fluorescence traces ----------
for n, t, traces, cols, w in [(1, a_time, a_traces, a_colors, 1.0), (2, b_time, b_traces, b_colors, 1.0),
                              (3, c_time, c_traces, c_colors, 1.0), (4, d_time, d_traces, d_colors, 1.4),
                              (5, e_time, e_traces, e_colors, 1.2)]:
    for vals, col in zip(traces, cols):
        line(n, t, vals, col, w)

# ---------- current traces ----------
for n, t, y in [(7, g_time, g_curr), (8, h_time, h_curr), (9, i_time, i_curr), (10, j_time, j_curr),
                (11, k_time, k_curr)]:
    line(n, t, y, "black", 1.2)

for n, t, tr in [(13, gi_t, (gi_red, gi_green, gi_black, gi_blue)), (14, hi_t, (hi_red, hi_green, hi_black, hi_blue)),
                 (15, ii_t, (ii_red, ii_green, ii_black, ii_blue)), (16, ji_t, (ji_red, ji_green, ji_black, ji_blue)),
                 (17, ki_t, (ki_red, ki_green, ki_black, ki_blue))]:
    for y, col in zip(tr, (RED, GREEN, "black", BLUE)):
        line(n, t, y, col, 1.1)
line(18, prot_t, prot_mv, "#444444", 1.2)


# ---------- bar charts ----------
def bars(n, ctrl, ctrl_n, ctrl_x, ctrl_w, iono, iono_err, iono_n, tpen, tpen_err, bw, gray, stars, vert):
    xr, yr = ref(n)
    idx = list(range(1, len(iono) + 1))
    fig.add_trace(go.Bar(x=[ctrl_x], y=[ctrl], width=ctrl_w, xaxis=xr, yaxis=yr, showlegend=False,
                         marker=dict(color="white", line=dict(color="black", width=1)),
                         text=[ctrl_n], textposition="outside" if vert else "inside",
                         insidetextanchor="middle", textangle=-90 if vert else 0, constraintext="none",
                         textfont=dict(size=10 if vert else 11, color="black", family=FONT), cliponaxis=False))
    fig.add_trace(go.Bar(x=[i - bw / 2 for i in idx], y=iono, width=bw, xaxis=xr, yaxis=yr, showlegend=False,
                         marker=dict(color="black", line=dict(width=0)),
                         error_y=dict(type="data", array=iono_err, arrayminus=[0] * len(idx), symmetric=False,
                                      color="black", thickness=1, width=2.5),
                         text=iono_n, textposition="inside", insidetextanchor="middle",
                         textangle=-90 if vert else 0, constraintext="none",
                         textfont=dict(size=10 if vert else 11, color="white", family=FONT)))
    fig.add_trace(go.Bar(x=[i + bw / 2 for i in idx], y=tpen, width=bw, xaxis=xr, yaxis=yr, showlegend=False,
                         marker=dict(color=gray, line=dict(width=0)),
                         error_y=dict(type="data", array=tpen_err, arrayminus=[0] * len(idx), symmetric=False,
                                      color=gray, thickness=1, width=2.5)))
    for i, v, e in zip(idx, iono, iono_err):
        annos.append(dict(x=i - bw / 2, y=v + e, xref=xr, yref=yr, text=stars, showarrow=False,
                          yanchor="bottom", yshift=-1, font=dict(size=10, color="#555555", family=FONT)))


bars(6, f_ctrl, f_ctrl_n, 0, 0.36, f_iono, f_iono_err, f_iono_n, f_tpen, f_tpen_err, 0.4, "#808080", "***", True)
bars(12, l_ctrl, l_ctrl_n, 0.19, 0.68, l_iono, l_iono_err, l_iono_n, l_tpen, l_tpen_err, 0.41, "#8c8c8c", "**",
     False)

# legends
box(636, 138, 651, 145, "black"); txt(654, 141.7, "Ionophore", 11, anchor="left")
box(636, 151, 651, 158, "#808080"); txt(654, 155, "Ionophore + TPEN", 11, anchor="left")
box(637, 424, 651, 431, "black"); txt(654, 428, "Ionophore", 11, anchor="left")
box(637, 438, 651, 445, "#8c8c8c"); txt(654, 441.7, "Ionophore + TPEN", 11, anchor="left")

# ---------- scale bars ----------
seg(185, 325, 185, 337); seg(193, 340, 202, 340)
txt(188, 330, "500 pA", 10.5, anchor="left"); txt(202, 348, "250 ms", 10.5)
seg(435, 287, 435, 302); seg(439, 316.7, 449, 316.7)
txt(430, 294, "500 pA", 10.5, anchor="right"); txt(442, 323, "250 ms", 10.5)
seg(685, 285, 685, 300); seg(689, 305, 708, 305)
txt(682, 292, "1 nA", 10.5, anchor="right"); txt(692, 312, "200 ms", 10.5)
seg(182, 437, 182, 450); seg(190, 455, 198, 455)
txt(178, 442, "500 pA", 10.5, anchor="right"); txt(194, 462, "250 ms", 10.5)
seg(451, 441, 451, 456); seg(459, 460, 470, 460)
txt(444, 456, "500 pA", 10.5, anchor="right"); txt(461, 466.7, "250 ms", 10.5)
txt(233, 291, "0 mV", 10.5); txt(200, 311, "-60 mV", 10.5)

# ---------- inset labels ----------
txt(241, 340, "ZnPy", 10.5, BLUE); txt(238, 370, "Contr.", 10.5); txt(200, 374, "ZnPy+", 10.5, GREEN)
txt(200, 385, "TPEN", 10.5, GREEN); txt(235, 395, "XE991", 10.5, RED)
txt(481, 311, "PDTC", 10.5, BLUE); txt(481, 339, "Contr.", 10.5); txt(481, 357, "PDTC", 10.5, GREEN)
txt(480, 368, "+TPEN", 10.5, GREEN); txt(481, 387, "XE991", 10.5, RED)
txt(731, 292, "DEDTC", 10.5, BLUE); txt(733, 315, "DEDTC", 10.5, GREEN); txt(734, 327, "+TPEN", 10.5, GREEN)
txt(735, 353, "Contr.", 10.5); txt(733, 379, "XE991", 10.5, RED)
txt(234, 455, "Ion. 1", 10.5, BLUE); txt(232, 482, "Contr.", 10.5); txt(196, 492, "Ion.1+", 10.5, GREEN)
txt(196, 504, "TPEN", 10.5, GREEN); txt(232, 528, "XE991", 10.5, RED)
txt(507, 455, "DIQ", 10.5, BLUE); txt(497, 479, "Contr.", 10.5); txt(466, 495, "DIQ+", 10.5, GREEN)
txt(466, 507, "TPEN", 10.5, GREEN); txt(503, 520, "XE991", 10.5, RED)

# ---------- treatment labels ----------
for px, py, s in [(111, 11, "ZnPy"), (201, 11, "ZnPy+TPEN"), (342, 11, "PDTC"), (436, 11, "PDTC+TPEN"),
                  (564, 11, "DEDTC"), (632, 11, "DEDTC+TPEN"), (72, 162, "Ion. 1"), (172, 162, "Ion. 1+TPEN"),
                  (293, 162, "DIQ"), (380, 162, "DIQ+TPEN"),
                  (65, 304, "ZnPy"), (110, 312, "ZnPy+"), (110, 322, "TPEN"), (152, 322, "XE991"),
                  (308, 292, "PDTC"), (336, 310, "PDTC"), (338, 322, "+TPEN"), (377, 322, "XE991"),
                  (550, 300, "DEDTC"), (617, 300, "DEDTC"), (618, 312, "+TPEN"), (651, 312, "XE991"),
                  (48, 446, "Ion.1"), (105, 459, "Ion.1"), (111, 472, "+TPEN"), (151, 472, "XE991"),
                  (306, 456, "DIQ"), (374, 460, "DIQ"), (382, 472, "+TPEN"), (416, 472, "XE991")]:
    txt(px, py, s, 10.5)

# ---------- axis titles ----------
for px, py in [(147, 132), (370, 134), (604, 131), (130, 284), (365, 283), (100, 423), (364, 422), (597, 423),
               (92, 563), (366, 563)]:
    txt(px, py, "Time (min)", 12)
for px, py in [(33, 57), (262, 63), (496, 60), (7, 198), (244, 198), (478, 197)]:
    txt(px, py, "F/F<sub>0</sub>", 12.5, angle=-90)
for px, py in [(7, 349), (263, 352), (509, 352), (6, 490), (263, 490)]:
    txt(px, py, "Current (nA)", 12.5, angle=-90)
txt(512, 483, "I/I<sub>0</sub>", 12.5, angle=-90)

# ---------- panel letters ----------
for s, px, py in [("A", 8, 10), ("B", 258, 10), ("C", 494, 11), ("D", 8, 140), ("E", 237, 140), ("F", 472, 146),
                  ("G", 8, 282), ("H", 257, 281), ("I", 503, 283), ("J", 6, 429), ("K", 261, 429),
                  ("L", 528, 430)]:
    txt(px, py, s, 18)

fig.update_layout(width=W, height=H, margin=dict(l=0, r=0, t=0, b=0), autosize=False,
                  paper_bgcolor="white", plot_bgcolor="white", showlegend=False, barmode="overlay",
                  font=dict(family=FONT, size=11, color="black"), shapes=shapes, annotations=annos, **lay)
fig.write_html("out.html")
